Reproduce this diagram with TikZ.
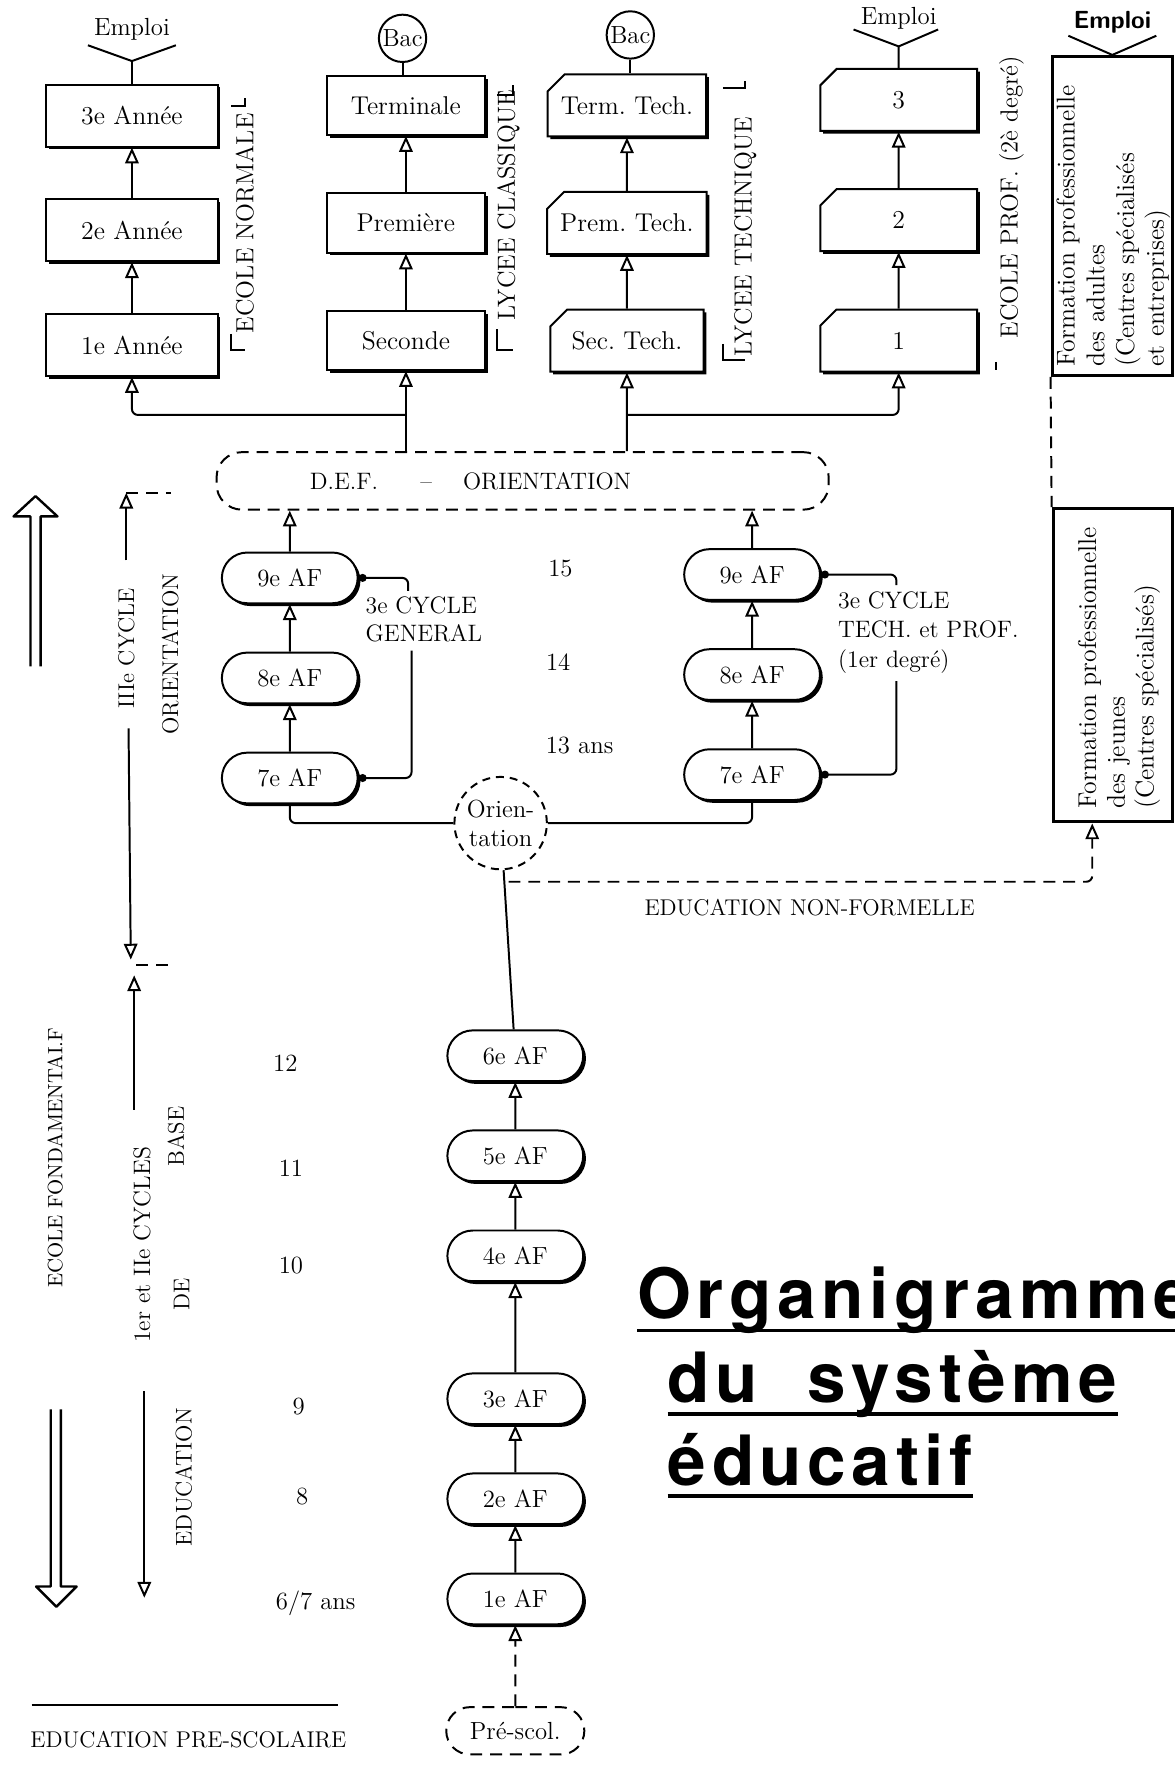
\documentclass[tikz,border=0pt]{standalone}
\usepackage{fontspec}
\newfontfamily\titlefont[LetterSpace=8]{TeX Gyre Heros}
\usepackage{tikz}
\usetikzlibrary{arrows.meta}
\usetikzlibrary{positioning}
\usetikzlibrary{shapes.misc,shadows}
\frenchspacing
\tikzset{
  txt/.style = {align=center, inner sep=0pt, font=\fontsize{12.5}{15}\selectfont},
  capt/.style = {txt, font=\fontsize{11.5}{14}\selectfont},
  vlbl/.style = {capt, rotate=90},% etiquette verticale
  vtop/.style = {vlbl, font=\fontsize{12.5}{14}\selectfont},% etiquette verticale, en haut
  boxnode/.style = {txt, inner sep=1pt, draw=black, fill=white, line width=1pt,
    font=\fontsize{13}{15}\selectfont,
    drop shadow={shadow xshift=1.4pt, shadow yshift=-1.4pt, fill=black, opacity=1}},
  ann_b/.style = {boxnode, rectangle, minimum width=3.04cm, minimum height=1.1cm},% ecole normale
  lyc_b/.style = {boxnode, rectangle, minimum width=2.8cm, minimum height=1.05cm},% lycee classique
  tch_b/.style = {boxnode, chamfered rectangle, chamfered rectangle corners=north west,
    chamfered rectangle xsep=0.36cm, minimum width=2.72cm, minimum height=1.1cm},% lycee technique, ecole prof
  af_b/.style = {boxnode, rounded rectangle, minimum width=2.48cm, minimum height=0.9cm,
    font=\fontsize{12.5}{15}\selectfont},% annees AF
  af_d/.style = {txt, rounded rectangle, draw, dsh, line width=1pt, minimum width=2.45cm,
    minimum height=0.84cm},% pre-scolaire
  bac_c/.style = {txt, circle, draw, line width=1pt, minimum size=0.84cm},
  fp_b/.style = {draw, line width=1.5pt, rectangle},% formation professionnelle
  dsh/.style = {dash pattern=on 6pt off 4pt},
  lnk/.style = {line width=1pt},
  cnx/.style = {line width=1pt, rounded corners=3pt},
  arr/.style = {cnx, ->},
  dotarr/.style = {cnx, -{Circle[length=4pt]}}
}

\begin{document}
\begin{tikzpicture}[x=0.02cm, y=-0.02cm, >={Triangle[open,length=0.28cm,width=0.24cm]}]
\useasboundingbox (0,0) rectangle (1042,1568);

% ecole normale
\node [ann_b] (an1) at (117,306) {1e Année};
\node [ann_b, above=0.9cm of an1] (an2) {2e Année};
\node [ann_b, above=0.9cm of an2] (an3) {3e Année};
\draw [arr] (an1) -- (an2);
\draw [arr] (an2) -- (an3);
\coordinate (yA) at ([yshift=0.4cm]an3.north);
\node [txt] (emA) at ([yshift=0.56cm]yA) {Emploi};
\draw [lnk] ([xshift=-0.78cm,yshift=0.28cm]yA) -- (yA) -- ([xshift=0.78cm,yshift=0.28cm]yA);
\draw [lnk] (yA) -- (an3);
\node [vtop] (lEN) at (217,198) {ECOLE NORMALE};
\draw [lnk] (205,94) -- (217,94) -- (217,87);
\draw [lnk] (205,296) -- (205,310) -- (217,310);

% lycee classique
\node [lyc_b] (sec) at (360,302) {Seconde};
\node [lyc_b, above=1cm of sec] (prem) {Première};
\node [lyc_b, above=1cm of prem] (term) {Terminale};
\draw [arr] (sec) -- (prem);
\draw [arr] (prem) -- (term);
\node [bac_c] (bacA) at (357,34) {Bac};
\draw [lnk] (bacA) -- (bacA |- term.north);
\node [vtop] (lLC) at (451,182) {LYCEE CLASSIQUE};
\draw [lnk] (441,84) -- (455,84) -- (455,75);
\draw [lnk] (441,292) -- (441,310) -- (455,310);

% lycee technique
\node [tch_b] (tsec) at (556,302) {Sec. Tech.};
\node [tch_b, above=0.95cm of tsec] (tprem) {Prem. Tech.};
\node [tch_b, above=0.95cm of tprem] (tterm) {Term. Tech.};
\draw [arr] (tsec) -- (tprem);
\draw [arr] (tprem) -- (tterm);
\node [bac_c] (bacB) at (559,31) {Bac};
\draw [lnk] (bacB) -- (bacB |- tterm.north);
\node [vtop] (lLT) at (661,210) {LYCEE TECHNIQUE};
\draw [lnk] (641,78) -- (661,78) -- (661,72);
\draw [lnk] (641,305) -- (641,319) -- (661,319);

% ecole prof. 2e degre
\node [tch_b, minimum width=2.78cm] (p1) at (797,302) {1};
\node [tch_b, minimum width=2.78cm, above=1cm of p1] (p2) {2};
\node [tch_b, minimum width=2.78cm, above=1cm of p2] (p3) {3};
\draw [arr] (p1) -- (p2);
\draw [arr] (p2) -- (p3);
\coordinate (yD) at ([yshift=0.38cm]p3.north);
\node [txt] (emD) at ([yshift=0.5cm]yD) {Emploi};
\draw [lnk] ([xshift=-0.8cm,yshift=0.3cm]yD) -- (yD) -- ([xshift=0.7cm,yshift=0.3cm]yD);
\draw [lnk] (yD) -- (p3);
\node [vtop] (lEP) at (897,175) {ECOLE PROF. (2è degré)};
\draw [lnk] (883,321) -- (883,328);

% formation professionnelle
\node [fp_b, minimum width=2.14cm, minimum height=5.66cm] (adult) at (986.5,191.5) {};
\node [txt, rotate=90, anchor=north west, align=left, font=\fontsize{13}{15}\selectfont] (fpa)
  at ([xshift=0.1cm,yshift=0.18cm]adult.south west)
  {Formation professionnelle\\des adultes\\(Centres spécialisés\\et entreprises)};
\coordinate (yE) at (adult.north);
\node [txt, font=\sffamily\bfseries\fontsize{12.5}{14}\selectfont] (emE) at ([yshift=0.58cm]yE) {Emploi};
\draw [lnk] ([xshift=-0.78cm,yshift=0.34cm]yE) -- (yE) -- ([xshift=0.78cm,yshift=0.34cm]yE);
\node [fp_b, minimum width=2.12cm, minimum height=5.56cm] (jeunes) at (987,590) {};
\node [txt, rotate=90, anchor=north west, align=left, font=\fontsize{13}{14.5}\selectfont] (fpj)
  at ([xshift=0.46cm,yshift=0.26cm]jeunes.south west)
  {Formation professionnelle\\des jeunes\\(Centres spécialisés)};
\draw [lnk, dsh] (adult.south west) -- (jeunes.north west);

% D.E.F.
\node [txt, draw, dsh, line width=1pt, rounded corners=0.45cm, minimum width=10.86cm,
  minimum height=1.02cm, font=\fontsize{12}{14}\selectfont] (def) at (463.5,426.5)
  {D.E.F.\hspace{0.75cm}--\hspace{0.55cm}ORIENTATION\hspace{1.85cm}};
\coordinate (jA) at (360,368);
\coordinate (jB) at (556,368);
\draw [arr] (sec |- def.north) -- (sec);
\draw [arr] (jA) -| (an1);
\draw [arr] (tsec |- def.north) -- (tsec);
\draw [arr] (jB) -| (p1);

% 3e cycle general
\node [af_b] (g7) at (257,690) {7e AF};
\node [af_b, above=0.84cm of g7] (g8) {8e AF};
\node [af_b, above=0.84cm of g8] (g9) {9e AF};
\draw [arr] (g7) -- (g8);
\draw [arr] (g8) -- (g9);
\draw [arr] (g9) -- (g9 |- def.south);
\node [capt, align=left, anchor=west, font=\fontsize{12}{14}\selectfont] (lcg) at (324,549) {3e CYCLE\\GENERAL};
\coordinate (cg1) at (362,524);
\coordinate (cg2) at (365,577);
\draw [dotarr] (cg1) |- (g9.east);
\draw [dotarr] (cg2) |- (g7.east);

% 3e cycle tech. et prof.
\node [af_b] (t7) at (667,687) {7e AF};
\node [af_b, above=0.84cm of t7] (t8) {8e AF};
\node [af_b, above=0.84cm of t8] (t9) {9e AF};
\draw [arr] (t7) -- (t8);
\draw [arr] (t8) -- (t9);
\draw [arr] (t9) -- (t9 |- def.south);
\node [capt, align=left, anchor=west, font=\fontsize{12}{15}\selectfont] (lct) at (743,561)
  {3e CYCLE\\TECH. et PROF.\\(1er degré)};
\coordinate (ct1) at (795,519);
\coordinate (ct2) at (795,604);
\draw [dotarr] (ct1) |- (t9.east);
\draw [dotarr] (ct2) |- (t7.east);

% orientation
\node [txt, circle, draw, dash pattern=on 4pt off 3pt, line width=1pt, minimum size=1.64cm,
  font=\fontsize{12.5}{14.5}\selectfont] (ori) at (444,730) {Orien-\\tation};
\draw [cnx] (g7) |- (ori);
\draw [cnx] (ori) -| (t7);

% 1er et 2e cycles
\node [af_b] (a1) at (457,1418) {1e AF};
\node [af_b, above=0.84cm of a1] (a2) {2e AF};
\node [af_b, above=0.84cm of a2] (a3) {3e AF};
\node [af_b, above=1.6cm of a3] (a4) {4e AF};
\node [af_b, above=0.84cm of a4] (a5) {5e AF};
\node [af_b, above=0.84cm of a5] (a6) {6e AF};
\draw [arr] (a1) -- (a2);
\draw [arr] (a2) -- (a3);
\draw [arr] (a3) -- (a4);
\draw [arr] (a4) -- (a5);
\draw [arr] (a5) -- (a6);
\draw [cnx] (a6) -- (ori);
\node [af_d] (presc) at (457,1535) {Pré-scol.};
\draw [arr, dsh] (presc) -- (a1);

% education non-formelle
\coordinate (nf) at (451,782);
\draw [arr, dsh] (nf) -| ([xshift=0.72cm]jeunes.south west);
\node [capt] (lnf) at (718,805) {EDUCATION NON-FORMELLE};

% ages
\node [txt] (ag15) at (497,504) {15};
\node [txt] (ag14) at (495,587) {14};
\node [txt] (ag13) at (514,661) {13 ans};
\node [txt] (ag12) at (253,943) {12};
\node [txt] (ag11) at (258,1036) {11};
\node [txt] (ag10) at (258,1122) {10};
\node [txt] (ag9) at (265,1247) {9};
\node [txt] (ag8) at (268,1327) {8};
\node [txt] (ag6) at (280,1422) {6/7 ans};

% cycles, a gauche
\draw [line width=1.2pt, line join=round] (27,591) -- (27,458) -- (12,458) -- (31.5,440) -- (51,458) -- (36,458) -- (36,591);
\draw [line width=1.2pt, line join=round] (45,1250) -- (45,1407) -- (32,1407) -- (50,1425) -- (68,1407) -- (54,1407) -- (54,1250);
\coordinate (c3t) at (112,437);
\coordinate (c3a) at (112,497);
\draw [arr] (c3a) -- (c3t);
\draw [lnk, dsh] (c3t) -- ++(40,0);
\coordinate (c3b) at (114,646);
\coordinate (c3d) at (116,851);
\draw [arr] (c3b) -- (c3d);
\coordinate (c12d) at (121,856);
\draw [lnk, dsh] (c12d) -- ++(34,0);
\coordinate (c12a) at (119,984);
\coordinate (c12t) at (119,865);
\draw [arr] (c12a) -- (c12t);
\coordinate (edt) at (128,1234);
\coordinate (edb) at (128,1417);
\draw [arr] (edt) -- (edb);
\node [vlbl] (l3c) at (112,575) {IIIe CYCLE};
\node [vlbl] (lori) at (151,580) {ORIENTATION};
\node [vlbl, font=\fontsize{10.5}{12}\selectfont] (lef) at (49,1027) {ECOLE FONDAMENTAI.F};
\node [vlbl, font=\fontsize{12}{14}\selectfont] (l12) at (126,1104) {1er et IIe CYCLES};
\node [vlbl] (lbase) at (156,1008) {BASE};
\node [vlbl] (lde) at (161,1148) {DE};
\node [vlbl] (ledu) at (163,1310) {EDUCATION};

% pre-scolaire
\coordinate (ps1) at (28,1512);
\coordinate (ps2) at (300,1512);
\draw [lnk] (ps1) -- (ps2);
\node [capt] (lps) at (167,1543) {EDUCATION PRE-SCOLAIRE};

% titre
\node [anchor=base west, inner sep=0pt, font=\titlefont\bfseries\fontsize{35}{40}\selectfont] (tl1) at (565,1169) {Organigramme};
\node [anchor=base west, inner sep=0pt, font=\titlefont\bfseries\fontsize{35}{40}\selectfont] (tl2) at (592,1244) {du\ \ système};
\node [anchor=base west, inner sep=0pt, font=\titlefont\bfseries\fontsize{35}{40}\selectfont] (tl3) at (592,1317) {éducatif};
\draw [line width=1.8pt] ([yshift=-0.22cm]tl1.base west) -- ([yshift=-0.22cm]tl1.base east);
\draw [line width=1.8pt] ([yshift=-0.2cm]tl2.base west) -- ([yshift=-0.2cm]tl2.base east);
\draw [line width=1.8pt] ([yshift=-0.2cm]tl3.base west) -- ([yshift=-0.2cm]tl3.base east);
\end{tikzpicture}
\end{document}
